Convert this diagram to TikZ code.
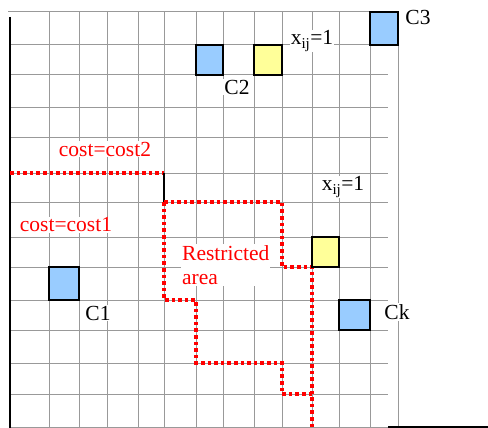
\documentclass[tikz,border=0pt]{standalone}
\usepackage{fontspec}
\setmainfont{Liberation Serif}
\definecolor{cblue}{HTML}{99CCFF}
\definecolor{cyellow}{HTML}{FFFF99}
\begin{document}
\begin{tikzpicture}[x=1pt,y=-1pt,
  gridline/.style={draw=black!40, line width=1pt, dash pattern=on 0.5pt off 0.5pt},
  cellbox/.style={draw=black, line width=1.8pt, inner sep=0pt, outer sep=0pt, anchor=north west},
  lbl/.style={fill=white, inner sep=1pt, font=\rmfamily\fontsize{21.5}{24}\selectfont},
  redlbl/.style={lbl, text=red},
  redpath/.style={draw=red, line width=3.6pt, dash pattern=on 3.6pt off 3pt}]
\useasboundingbox (0,0) rectangle (488,428);
% grid
\foreach \x in {49,79,107,138,164,196,223,254,282,312,339,370,398}
  \draw[gridline] (\x,12) -- (\x,427);
\draw[gridline] (8,12) -- (398,12);
\foreach \y in {45,75,108,138,173,202,237,267,300,330,363,394,427}
  \draw[gridline] (10,\y) -- (388,\y);
% axes
\draw[black, line width=2pt] (10,17) -- (10,428);
\draw[black, line width=2pt] (388,427) -- (488,427);
% red boundary
\draw[redpath] (10,173) -- (164,173);
\draw[black, line width=1.5pt] (164,173) -- (164,202);
\draw[redpath] (164,202) -- (282,202) -- (282,267) -- (312,267) -- (312,427);
\draw[redpath] (164,202) -- (164,300) -- (196,300) -- (196,363) -- (282,363) -- (282,394) -- (312,394);
% boxes
\node[cellbox, fill=cblue, minimum width=27pt, minimum height=30pt] (c2) at (196,45) {};
\node[cellbox, fill=cyellow, minimum width=28pt, minimum height=30pt] (y1) at (254,45) {};
\node[cellbox, fill=cblue, minimum width=28pt, minimum height=33pt] (c3) at (370,12) {};
\node[cellbox, fill=cyellow, minimum width=27pt, minimum height=30pt] (y2) at (312,237) {};
\node[cellbox, fill=cblue, minimum width=30pt, minimum height=33pt] (c1) at (49,267) {};
\node[cellbox, fill=cblue, minimum width=31pt, minimum height=30pt] (ck) at (339,300) {};
% labels
\node[lbl] (lc2) at (237,87) {C2};
\node[lbl] (lc3) at (418,17) {C3};
\node[lbl] (lc1) at (98,313) {C1};
\node[lbl] (lck) at (397,312) {Ck};
\node[lbl] (x1) at (312,41) {x\textsubscript{ij}=1};
\node[lbl] (x2) at (343,187) {x\textsubscript{ij}=1};
\node[redlbl] (cost2) at (105,149) {cost=cost2};
\node[redlbl] (cost1) at (66,225) {cost=cost1};
\node[redlbl, align=left, anchor=west] (ra) at (181,265) {Restricted\\area};
\end{tikzpicture}
\end{document}
